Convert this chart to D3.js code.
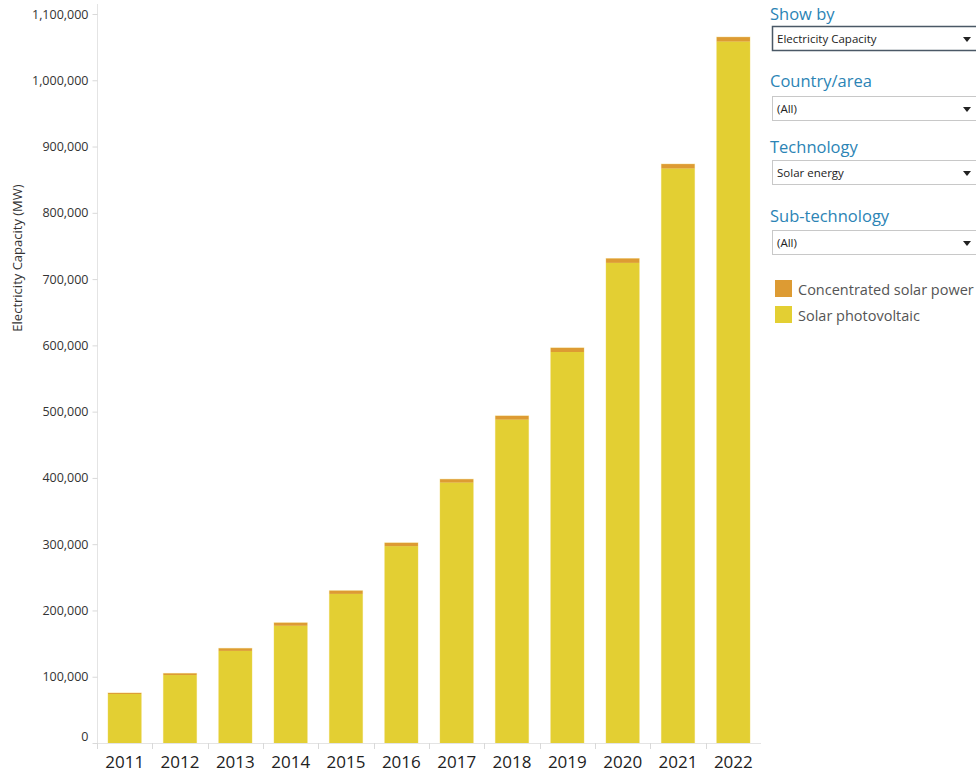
<!DOCTYPE html>
<html>
<head>
<meta charset="utf-8">
<script src="https://cdn.jsdelivr.net/npm/d3@7"></script>
<style>
  html, body { margin: 0; padding: 0; background: #fff; }
  svg { display: block; font-family: "Open Sans", "Noto Sans", sans-serif; }
</style>
</head>
<body>
<svg id="chart" width="976" height="774"></svg>
<script>
const years = ["2011","2012","2013","2014","2015","2016","2017","2018","2019","2020","2021","2022"];
const solarPV = [74000, 102500, 139000, 177000, 225000, 297000, 393000, 488000, 590000, 724500, 867000, 1058500];
const csp = [1500, 2500, 3800, 4400, 4800, 5000, 5000, 5600, 6200, 6500, 6500, 6600];
const seriesNames = ["Concentrated solar power", "Solar photovoltaic"];
const seriesColors = ["#dd9b33", "#e3cf33"];
const yTicks = [0,100000,200000,300000,400000,500000,600000,700000,800000,900000,1000000,1100000];
const yTitle = "Electricity Capacity (MW)";
const filters = [
  {label: "Show by", value: "Electricity Capacity"},
  {label: "Country/area", value: "(All)"},
  {label: "Technology", value: "Solar energy"},
  {label: "Sub-technology", value: "(All)"}
];

const svg = d3.select("#chart");
const x = d3.scaleBand().domain(years).range([97, 761]).paddingInner(0.4).paddingOuter(0.2);
const y = d3.scaleLinear().domain([0, 1100000]).range([743, 14]);

const rows = years.map((yr, i) => ({year: yr, pv: solarPV[i], csp: csp[i]}));
const stack = d3.stack().keys(["pv", "csp"])(rows);
const colorByKey = {pv: seriesColors[1], csp: seriesColors[0]};

svg.append("line").attr("x1", 97.5).attr("x2", 97.5).attr("y1", 4).attr("y2", 743)
  .attr("stroke", "#e4e4e4").attr("stroke-width", 1);

const yAxis = d3.axisLeft(y).tickValues(yTicks).tickFormat(d3.format(",")).tickSize(5).tickPadding(4);
const gy = svg.append("g").attr("transform", "translate(97.5,0)").call(yAxis);
gy.select(".domain").remove();
gy.selectAll(".tick line").attr("stroke", "#d9d9d9");
gy.selectAll(".tick text").attr("fill", "#333").style("font-size", "12.5px")
  .style("font-family", "'Open Sans', sans-serif");
gy.selectAll(".tick").filter(d => d === 0).select("text").attr("dy", "-0.2em");

// bar outlines (pale edge)
svg.append("g").selectAll("rect").data(rows).join("rect")
  .attr("x", d => x(d.year) - 0.5)
  .attr("width", x.bandwidth() + 1)
  .attr("y", d => y(d.pv + d.csp) - 0.5)
  .attr("height", d => y(0) - y(d.pv + d.csp) + 0.5)
  .attr("fill", "#f7eab0");

// bars
svg.append("g").selectAll("g").data(stack).join("g")
  .attr("fill", d => colorByKey[d.key])
  .selectAll("rect").data(d => d).join("rect")
  .attr("x", d => x(d.data.year))
  .attr("width", x.bandwidth())
  .attr("y", d => y(d[1]))
  .attr("height", d => y(d[0]) - y(d[1]));

svg.append("line").attr("x1", 97).attr("x2", 761).attr("y1", 743.5).attr("y2", 743.5)
  .attr("stroke", "#e4e4e4");
const step = x.step();
const bounds = d3.range(years.length).map(i => 97 + i * step);
svg.append("g").selectAll("line").data(bounds).join("line")
  .attr("x1", d => Math.round(d) + 0.5).attr("x2", d => Math.round(d) + 0.5)
  .attr("y1", 743).attr("y2", 749).attr("stroke", "#d9d9d9");
svg.append("g").selectAll("text").data(years).join("text")
  .attr("x", d => x(d) + x.bandwidth() / 2)
  .attr("y", 768)
  .attr("text-anchor", "middle")
  .attr("fill", "#222")
  .style("font-size", "17px")
  .text(d => d);

svg.append("text")
  .attr("transform", "translate(22,258) rotate(-90)")
  .attr("text-anchor", "middle")
  .attr("fill", "#333")
  .style("font-size", "13px")
  .text(yTitle);

const fTops = [7, 74, 140, 209];
const boxTops = [26, 96, 160, 230];
const panel = svg.append("g");
filters.forEach((f, i) => {
  panel.append("text").attr("x", 770).attr("y", fTops[i] + 13)
    .attr("fill", "#2b84b5").style("font-size", "16.5px").text(f.label);
  panel.append("rect").attr("x", 772.5).attr("y", boxTops[i] + 0.5)
    .attr("width", 210).attr("height", 24)
    .attr("fill", "#fff")
    .attr("stroke", i === 0 ? "#4a5866" : "#c8c8c8")
    .attr("stroke-width", i === 0 ? 1.5 : 1);
  panel.append("text").attr("x", 777).attr("y", boxTops[i] + 16.5)
    .attr("fill", "#222").style("font-size", "11.5px").text(f.value);
  panel.append("path")
    .attr("d", `M${963},${boxTops[i] + 11} L${971},${boxTops[i] + 11} L${967},${boxTops[i] + 16} Z`)
    .attr("fill", "#222");
});

const legY = [280, 306];
seriesNames.forEach((n, i) => {
  panel.append("rect").attr("x", 775).attr("y", legY[i]).attr("width", 17).attr("height", 17)
    .attr("fill", seriesColors[i]);
  panel.append("text").attr("x", 798).attr("y", legY[i] + 15)
    .attr("fill", "#555").style("font-size", "14.5px").text(n);
});
</script>
</body>
</html>
